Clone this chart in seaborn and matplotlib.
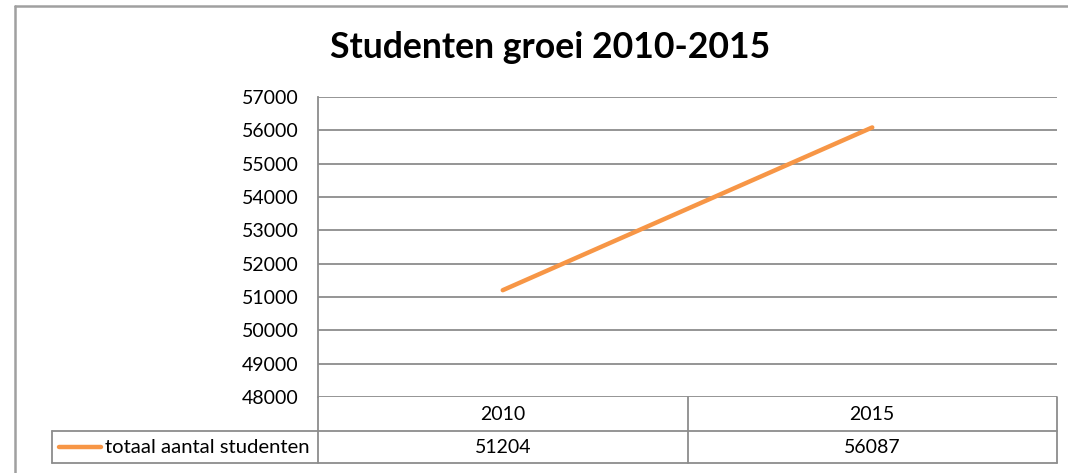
import matplotlib
matplotlib.use("Agg")
import matplotlib.pyplot as plt
import seaborn as sns
import pandas as pd
from matplotlib.lines import Line2D

years = ["2010", "2015"]
students = [51204, 56087]
series_name = "totaal aantal studenten"
title = "Studenten groei 2010-2015"
yticks = [48000, 49000, 50000, 51000, 52000, 53000, 54000, 55000, 56000, 57000]

sns.set_theme(style="white")
plt.rcParams["font.family"] = ["Lato", "DejaVu Sans"]

W, H = 1068, 473
fig = plt.figure(figsize=(W / 100, H / 100), dpi=100)
fig.patch.set_facecolor("white")

def fx(px):
    return px / W

def fy(py):
    return 1 - py / H

grid_c = "#8c8c8c"
orange = "#F79646"
fs = 14

# outer chart frame
fig.add_artist(Line2D([fx(15), fx(15)], [fy(6), fy(473)], color="#a0a0a0", lw=1.8))
fig.add_artist(Line2D([fx(15), fx(1068)], [fy(6), fy(6)], color="#a0a0a0", lw=1.8))

L, R, T, B = 318, 1057, 97, 397
ax = fig.add_axes([fx(L), fy(B), fx(R - L), (B - T) / H])

df = pd.DataFrame({"year": years, "students": students})
df["pos"] = range(len(years))
sns.lineplot(data=df, x="pos", y="students", ax=ax, color=orange, lw=3.2,
             solid_capstyle="round", sort=False)

ax.set_xlim(-0.5, len(years) - 0.5)
ax.set_ylim(yticks[0], yticks[-1])
ax.set_yticks(yticks)
ax.set_yticklabels([str(v) for v in yticks], fontsize=fs, color="#000000")
ax.tick_params(axis="y", length=0, pad=14)
ax.set_xticks([])
ax.set_xlabel("")
ax.set_ylabel("")
for v in yticks:
    ax.axhline(v, color=grid_c, lw=1.3, zorder=0)
for s in ["top", "right", "bottom"]:
    ax.spines[s].set_visible(False)
ax.spines["left"].set_color(grid_c)
ax.spines["left"].set_linewidth(1.3)

fig.text(fx(550), fy(47), title, ha="center", va="center", fontsize=25.7,
         fontweight="bold", color="#000000")

# data table
row1_top, row1_bot, row2_bot = 397, 431, 463
leg_left = 52
def hline(y, x0, x1):
    fig.add_artist(Line2D([fx(x0), fx(x1)], [fy(y), fy(y)], color=grid_c, lw=1.3))
def vline(x, y0, y1):
    fig.add_artist(Line2D([fx(x), fx(x)], [fy(y0), fy(y1)], color=grid_c, lw=1.3))

hline(row1_bot, leg_left, R)
hline(row2_bot, leg_left, R)
vline(L, row1_top, row2_bot)
vline(R, row1_top, row2_bot)
vline(leg_left, row1_bot, row2_bot)
for i in range(1, len(years)):
    xb = ax.transData.transform((i - 0.5, 0))[0]
    vline(xb, row1_top, row2_bot)

for i, (yr, val) in enumerate(zip(years, students)):
    xc = ax.transData.transform((i, 0))[0] / W
    fig.text(xc, fy((row1_top + row1_bot) / 2), yr,
             ha="center", va="center", fontsize=fs, color="#000000")
    fig.text(xc, fy((row1_bot + row2_bot) / 2), str(val),
             ha="center", va="center", fontsize=fs, color="#000000")

# legend key in table
fig.add_artist(Line2D([fx(59), fx(101)], [fy(447), fy(447)], color=orange, lw=3.2,
                      solid_capstyle="round"))
fig.text(fx(105), fy(447), series_name, ha="left", va="center", fontsize=14.6,
         color="#000000")

fig.savefig("out.png", dpi=100, facecolor="white")
